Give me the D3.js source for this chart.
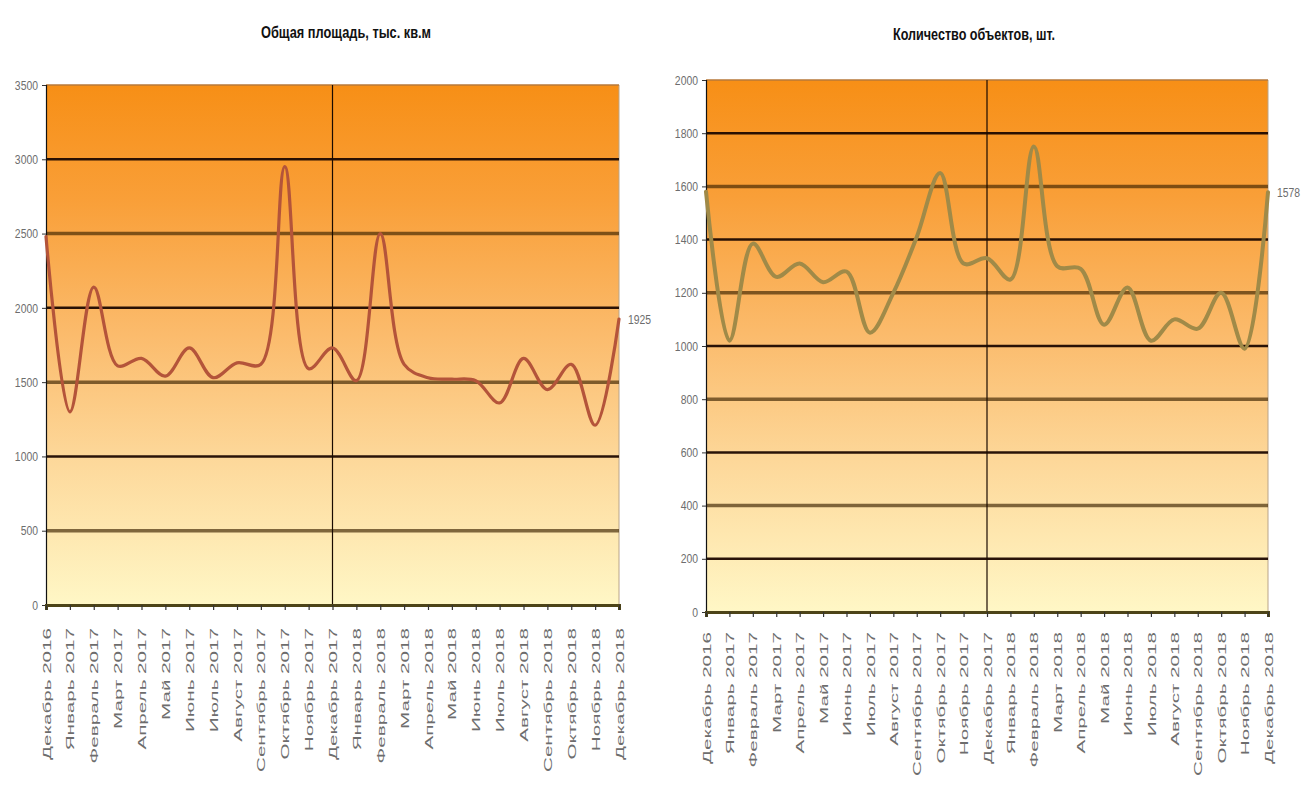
<!DOCTYPE html>
<html lang="ru">
<head>
<meta charset="utf-8">
<title>Общая площадь и количество объектов</title>
<script src="https://cdn.jsdelivr.net/npm/d3@7"></script>
<style>
  html, body { margin: 0; padding: 0; background: #ffffff; }
  svg { display: block; }
  text { font-family: "Liberation Sans", Arial, sans-serif; }
</style>
</head>
<body>
<svg id="chart" width="1301" height="785"></svg>
<script>
// Месяцы наблюдения (общие для обоих графиков)
const months = [
  "Декабрь 2016", "Январь 2017", "Февраль 2017", "Март 2017", "Апрель 2017",
  "Май 2017", "Июнь 2017", "Июль 2017", "Август 2017", "Сентябрь 2017",
  "Октябрь 2017", "Ноябрь 2017", "Декабрь 2017", "Январь 2018", "Февраль 2018",
  "Март 2018", "Апрель 2018", "Май 2018", "Июнь 2018", "Июль 2018",
  "Август 2018", "Сентябрь 2018", "Октябрь 2018", "Ноябрь 2018", "Декабрь 2018"
];

// Общая площадь, тыс. кв.м
const areaValues = [
  2480, 1300, 2140, 1610, 1660, 1540, 1730, 1530, 1630, 1620,
  2950, 1590, 1730, 1510, 2500, 1620, 1530, 1520, 1510, 1360,
  1660, 1450, 1620, 1210, 1925
];

// Количество объектов, шт.
const countValues = [
  1580, 1020, 1385, 1260, 1310, 1240, 1280, 1050, 1200, 1410,
  1650, 1310, 1330, 1250, 1750, 1300, 1290, 1080, 1220, 1020,
  1100, 1065, 1200, 990, 1578
];

const areaTicks = [0, 500, 1000, 1500, 2000, 2500, 3000, 3500];
const countTicks = [0, 200, 400, 600, 800, 1000, 1200, 1400, 1600, 1800, 2000];

const areaTitle = "Общая площадь, тыс. кв.м";
const countTitle = "Количество объектов, шт.";

const svg = d3.select("#chart");
const defs = svg.append("defs");

// Фон области построения: оранжевый сверху, светло-жёлтый снизу
const grad = defs.append("linearGradient")
  .attr("id", "plotBg").attr("x1", 0).attr("y1", 0).attr("x2", 0).attr("y2", 1);
[
  [0.00, "#f78f16"],
  [0.22, "#f99f38"],
  [0.48, "#fbbb6c"],
  [0.72, "#fdd89a"],
  [1.00, "#fff7c6"]
].forEach(([o, c]) => grad.append("stop").attr("offset", o).attr("stop-color", c));

function drawChart(cfg) {
  const g = svg.append("g");
  const x = d3.scalePoint().domain(months).range([cfg.x0, cfg.x1]);
  const y = d3.scaleLinear().domain([0, d3.max(cfg.ticks)]).range([cfg.yBottom, cfg.yTop]);

  // фон
  g.append("rect")
    .attr("x", cfg.x0).attr("y", cfg.yTop)
    .attr("width", cfg.x1 - cfg.x0).attr("height", cfg.yBottom - cfg.yTop)
    .attr("fill", "url(#plotBg)");

  // правая и верхняя границы
  g.append("line")
    .attr("x1", cfg.x1).attr("x2", cfg.x1).attr("y1", cfg.yTop).attr("y2", cfg.yBottom)
    .attr("stroke", "#b9a48a").attr("stroke-width", 1);
  g.append("line")
    .attr("x1", cfg.x0).attr("x2", cfg.x1).attr("y1", cfg.yTop).attr("y2", cfg.yTop)
    .attr("stroke", "#b7783a").attr("stroke-width", 1.5);

  // горизонтальные линии сетки
  const grid = cfg.ticks.filter(v => v > 0 && v < d3.max(cfg.ticks));
  g.selectAll(".grid").data(grid).join("line")
    .attr("x1", cfg.x0).attr("x2", cfg.x1)
    .attr("y1", d => y(d)).attr("y2", d => y(d))
    .attr("stroke", d => cfg.darkLine(d) ? "#1e0800" : "#3c2300")
    .attr("stroke-opacity", d => cfg.darkLine(d) ? 0.95 : 0.66)
    .attr("stroke-width", d => cfg.darkLine(d) ? 2.5 : 3.5);

  // вертикальная линия — граница годов
  g.append("line")
    .attr("x1", x(cfg.divider)).attr("x2", x(cfg.divider))
    .attr("y1", cfg.yTop).attr("y2", cfg.yBottom)
    .attr("stroke", "#1a0a00").attr("stroke-width", 1.2);

  // ось Y
  const yAxis = g.append("g")
    .attr("transform", `translate(${cfg.x0},0)`)
    .call(d3.axisLeft(y).tickValues(cfg.ticks).tickSize(4).tickPadding(4).tickFormat(d3.format("d")));
  yAxis.select(".domain").attr("stroke", "#111").attr("stroke-width", 1.2);
  yAxis.selectAll(".tick line").attr("stroke", "#333");
  yAxis.selectAll(".tick text")
    .attr("fill", "#6d6d6d")
    .attr("font-size", 13)
    .attr("font-family", "'Liberation Sans', Arial, sans-serif")
    .each(function() {
      const t = d3.select(this);
      const xx = +t.attr("x");
      t.attr("x", null).attr("transform", `translate(${xx},0) scale(0.8,1)`);
    });

  // ось X
  const xAxis = g.append("g")
    .attr("transform", `translate(0,${cfg.yBottom})`)
    .call(d3.axisBottom(x).tickSize(5).tickPadding(0));
  xAxis.select(".domain").attr("stroke", "#4d4418").attr("stroke-width", 3);
  xAxis.selectAll(".tick line").attr("stroke", "#333").attr("stroke-width", 1.2);
  xAxis.selectAll(".tick text")
    .attr("fill", "#6d6d6d")
    .attr("font-size", 12)
    .attr("font-family", "'Liberation Sans', Arial, sans-serif")
    .attr("text-anchor", "end")
    .attr("y", null).attr("dy", "0.36em")
    .attr("transform", `translate(0,${cfg.labelGap}) rotate(-90) scale(1.72,0.95)`);

  // линия данных
  const line = d3.line()
    .x((d, i) => x(months[i]))
    .y(d => y(d))
    .curve(d3.curveCatmullRom.alpha(0.5));
  g.append("path")
    .datum(cfg.values)
    .attr("d", line)
    .attr("fill", "none")
    .attr("stroke", cfg.color)
    .attr("stroke-width", cfg.lineWidth)
    .attr("stroke-linejoin", "round")
    .attr("stroke-linecap", "round");

  // подпись последнего значения
  const last = cfg.values[cfg.values.length - 1];
  g.append("text")
    .attr("transform", `translate(${cfg.x1 + 9},${y(last)}) scale(0.8,1)`)
    .attr("dy", "0.35em")
    .attr("fill", "#6d6d6d")
    .attr("font-size", 13)
    .text(d3.format("d")(last));

  // заголовок
  g.append("text")
    .attr("x", cfg.titleX).attr("y", cfg.titleY)
    .attr("text-anchor", "middle")
    .attr("font-weight", "bold")
    .attr("font-size", 16)
    .attr("fill", "#111")
    .attr("textLength", cfg.titleWidth)
    .attr("lengthAdjust", "spacingAndGlyphs")
    .text(cfg.title);
}

drawChart({
  x0: 46, x1: 619, yTop: 85, yBottom: 605, labelGap: 23,
  ticks: areaTicks, values: areaValues, title: areaTitle,
  titleX: 346, titleY: 38, titleWidth: 170,
  divider: "Декабрь 2017",
  darkLine: v => v % 1000 === 0,
  color: "#b4543a", lineWidth: 3.2
});

drawChart({
  x0: 706, x1: 1268, yTop: 80, yBottom: 612, labelGap: 20,
  ticks: countTicks, values: countValues, title: countTitle,
  titleX: 974, titleY: 40, titleWidth: 162,
  divider: "Декабрь 2017",
  darkLine: v => (v / 200) % 2 === 1,
  color: "#a08a48", lineWidth: 4
});
</script>
</body>
</html>
